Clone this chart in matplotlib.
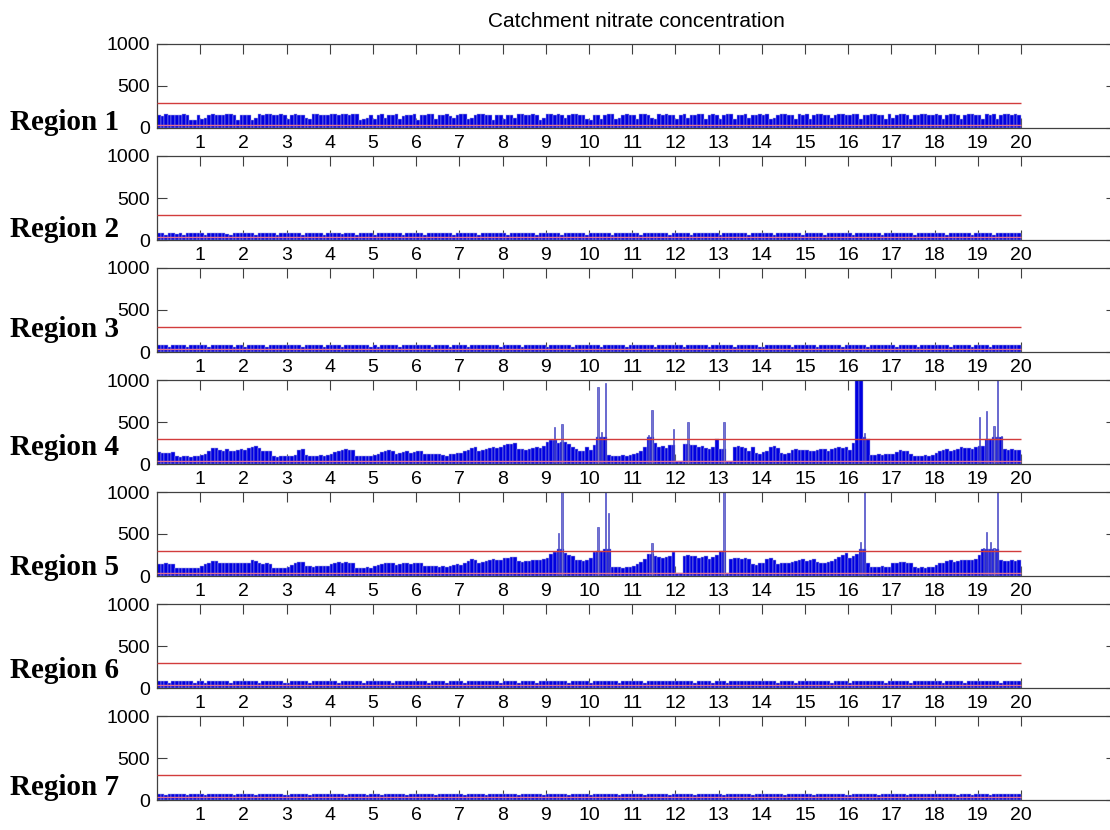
import numpy as np
import matplotlib
matplotlib.use("Agg")
import matplotlib.pyplot as plt

# monthly nitrate values, one row per year (20 years)
region1 = [
    [150,140,165,160,155,150,160,165,150,90,100,160],
    [110,120,160,165,160,155,150,165,170,160,100,150],
    [160,150,100,120,165,160,170,165,155,150,165,160],
    [110,160,165,150,160,120,110,165,170,160,155,150],
    [170,165,160,170,165,160,170,165,100,110,120,150],
    [110,160,165,120,150,160,170,110,140,160,150,165],
    [100,150,160,165,170,110,150,160,165,140,120,160],
    [170,165,110,120,160,165,170,160,150,100,160,150],
    [110,150,160,120,165,170,160,150,165,160,100,120],
    [165,170,160,165,150,120,160,170,165,160,150,110],
    [100,150,160,110,160,165,170,110,120,160,165,150],
    [160,110,165,170,160,120,110,165,160,170,160,150],
    [110,160,165,120,150,160,170,165,110,160,170,150],
    [110,160,170,165,110,150,160,165,120,150,160,165],
    [160,165,110,120,160,170,165,150,160,110,165,160],
    [165,110,160,170,165,160,150,120,160,170,165,150],
    [160,170,165,110,150,160,165,170,160,150,110,165],
    [120,160,165,170,160,110,150,160,165,170,160,150],
    [165,160,110,160,170,165,150,110,160,165,170,160],
    [150,110,165,160,170,110,150,165,170,160,165,150],
]
region2 = [
    [80,82,60,78,85,70,80,55,82,78,84,80],
    [82,60,80,84,78,82,80,70,55,82,85,80],
    [78,84,80,58,82,85,80,78,82,60,80,84],
    [85,80,78,82,62,80,84,85,80,78,55,82],
    [80,82,84,70,80,85,78,60,82,84,80,78],
    [60,80,84,82,85,78,80,82,58,80,84,85],
    [82,78,60,84,80,82,85,80,78,84,62,80],
    [84,85,80,78,82,60,80,84,85,80,78,82],
    [78,60,82,85,80,84,78,82,80,58,84,85],
    [85,82,80,78,60,84,85,82,80,78,84,62],
    [80,84,85,82,78,80,60,85,84,82,80,78],
    [82,80,58,84,85,80,82,78,84,85,60,80],
    [84,85,82,80,60,78,84,85,82,80,78,84],
    [60,82,84,85,80,82,78,84,60,85,82,80],
    [82,84,80,60,85,82,84,80,78,82,85,60],
    [85,80,82,84,78,60,85,82,84,80,82,78],
    [80,60,84,82,85,84,80,78,82,60,84,85],
    [84,82,85,80,82,78,60,84,85,82,80,84],
    [78,85,82,60,84,85,82,80,78,84,60,82],
    [82,84,80,85,62,82,84,85,80,82,84,80],
]
region3 = [
    [78,80,82,62,80,84,78,80,60,82,80,78],
    [80,84,60,82,78,80,84,82,80,58,82,84],
    [62,80,82,84,80,78,60,82,84,80,82,78],
    [82,78,84,80,60,82,80,84,78,82,62,80],
    [84,82,80,60,82,84,80,78,82,84,80,60],
    [80,60,82,84,80,82,84,60,80,78,84,82],
    [78,82,84,80,62,80,82,84,80,60,82,84],
    [84,80,60,82,84,78,80,82,84,80,78,60],
    [80,84,82,78,80,60,84,82,80,84,82,80],
    [60,82,80,84,82,80,78,60,84,82,80,84],
    [82,80,84,60,80,84,82,80,78,84,60,82],
    [84,78,82,80,84,82,60,84,82,80,84,80],
    [80,82,60,84,82,80,84,82,80,60,82,84],
    [82,84,80,82,60,84,82,80,84,82,80,62],
    [60,80,84,82,80,78,84,82,60,80,84,82],
    [84,82,80,60,84,82,80,84,82,80,60,84],
    [80,84,82,80,82,60,84,80,82,84,82,80],
    [82,60,84,82,80,84,82,60,80,82,84,82],
    [84,82,80,84,62,80,84,82,84,80,60,82],
    [80,84,82,60,84,82,80,84,82,84,80,82],
]
region4 = [
    [140,130,135,130,145,90,85,90,95,85,90,95],
    [110,125,150,190,185,170,160,175,150,160,165,180],
    [170,185,200,215,190,160,150,150,95,85,90,95],
    [100,95,105,165,180,110,100,95,100,105,100,110],
    [120,140,160,170,175,165,170,100,95,100,95,100],
    [110,125,140,160,165,160,120,130,140,150,130,140],
    [160,155,120,125,120,115,120,110,100,115,125,130],
    [130,150,170,195,200,160,170,180,190,200,185,200],
    [230,235,240,245,180,175,170,180,190,200,195,210],
    [260,290,435,250,480,260,240,200,180,160,150,200],
    [170,230,920,380,970,110,100,95,100,105,100,110],
    [120,130,160,200,350,645,250,200,210,190,230,415],
    [30,35,240,500,230,230,200,210,190,180,200,300],
    [180,500,30,35,200,210,200,190,150,200,130,120],
    [140,150,200,210,190,130,125,135,170,175,165,170],
    [170,160,150,165,180,175,160,180,190,200,195,200],
    [170,250,1000,1000,370,300,110,105,115,110,120,115],
    [120,140,170,160,150,120,100,95,100,105,100,110],
    [130,150,170,180,160,170,180,200,190,185,180,200],
    [560,220,630,300,450,1000,330,180,170,175,165,170],
]
region5 = [
    [145,140,150,140,145,95,90,95,100,90,95,100],
    [120,140,155,180,175,155,150,160,150,155,150,160],
    [150,160,190,175,150,145,150,140,95,90,95,100],
    [110,130,150,170,165,120,115,110,120,115,120,125],
    [140,160,170,160,165,160,150,100,95,100,105,100],
    [120,130,145,160,155,150,130,140,150,155,140,150],
    [160,150,125,120,115,120,110,115,105,120,130,140],
    [130,150,175,200,195,160,170,180,190,200,185,195],
    [210,220,225,230,175,170,175,180,190,185,190,200],
    [220,260,290,515,1000,270,250,240,190,185,180,190],
    [210,280,580,300,1000,750,110,105,110,100,105,110],
    [120,140,170,200,260,390,240,230,220,225,235,280],
    [30,35,240,245,240,235,210,230,240,200,230,250],
    [300,1000,40,200,210,215,205,210,200,140,130,150],
    [150,200,210,195,140,150,160,150,170,180,190,200],
    [180,190,200,170,160,150,170,180,200,230,250,270],
    [210,240,260,400,1000,150,110,105,110,115,110,105],
    [150,160,170,165,160,150,110,100,105,100,110,105],
    [130,150,160,180,190,170,180,190,195,185,190,200],
    [250,330,520,400,330,1000,190,180,175,185,180,190],
]
region6 = [
    [82,80,84,60,82,80,78,84,82,80,62,84],
    [80,62,82,84,80,84,82,80,60,84,82,80],
    [84,82,80,84,60,82,84,80,82,84,80,60],
    [60,84,82,80,84,82,60,84,80,82,84,82],
    [82,80,60,82,84,80,84,82,84,60,80,84],
    [84,82,84,80,82,60,80,84,82,80,84,82],
    [80,84,82,62,80,84,82,80,60,84,82,80],
    [82,60,80,84,82,80,84,82,84,80,82,60],
    [84,82,84,80,60,82,80,84,82,62,80,84],
    [80,84,82,84,80,84,60,82,80,84,82,80],
    [62,80,84,82,84,80,82,84,60,82,84,82],
    [84,82,80,60,82,84,80,82,84,80,82,84],
    [82,84,82,80,84,60,84,80,82,84,60,80],
    [80,82,60,84,82,80,82,84,80,82,84,82],
    [84,80,84,82,60,84,80,82,84,60,82,84],
    [82,84,80,84,82,80,84,60,82,84,80,82],
    [60,82,84,80,84,82,80,84,82,80,62,84],
    [84,80,82,84,80,60,84,82,80,84,82,80],
    [82,84,60,82,84,82,80,84,60,82,84,82],
    [80,82,84,80,82,84,62,80,84,82,80,84],
]
region7 = [
    [70,72,55,70,74,72,68,72,55,72,70,74],
    [72,55,70,74,72,70,72,68,74,55,72,70],
    [74,72,70,55,72,74,70,72,70,74,72,56],
    [55,70,74,72,70,72,55,74,72,70,74,72],
    [72,74,72,70,55,70,74,72,74,72,55,70],
    [70,72,55,74,72,74,72,70,72,56,74,72],
    [74,70,72,74,70,55,72,74,70,72,74,70],
    [72,55,74,72,74,72,70,55,74,72,70,74],
    [70,74,72,70,56,74,72,74,72,70,72,55],
    [74,72,70,74,72,70,55,72,70,74,72,74],
    [55,70,74,72,74,72,74,70,55,72,74,72],
    [72,74,72,55,70,74,72,74,72,70,56,74],
    [74,72,70,74,72,56,70,72,74,72,74,70],
    [70,55,74,72,70,74,72,70,72,55,72,74],
    [72,74,72,70,74,72,55,74,70,74,72,70],
    [74,70,55,74,72,70,74,72,74,72,70,56],
    [56,72,74,72,70,74,72,70,55,74,72,74],
    [72,74,70,74,55,72,74,72,74,70,74,72],
    [74,72,74,70,72,74,56,70,72,74,55,70],
    [70,74,72,55,74,72,70,74,72,70,74,72],
]
regions = [region1, region2, region3, region4, region5, region6, region7]
names = ["Region 1", "Region 2", "Region 3", "Region 4",
         "Region 5", "Region 6", "Region 7"]
limit = 300     # upper red reference line
low_line = 40   # lower red reference line

W, H = 1110, 830
fig = plt.figure(figsize=(W/100., H/100.), dpi=100)
plt.rcParams["font.family"] = ["Liberation Sans", "DejaVu Sans"]

left, right = 157, 1116
top0, step, height = 44, 112, 84
label_base = [130, 237, 337, 455, 575, 678, 795]  # baseline (px from top) of region labels

xpos = np.arange(240)/12. + 1/24.

axes = []
for i, (name, vals) in enumerate(zip(names, regions)):
    top = top0 + i*step
    ax = fig.add_axes([left/W, 1 - (top + height)/H, (right-left)/W, height/H])
    h = np.concatenate([np.asarray(v, float) for v in vals])

    # isolated peaks show up as thin lines, a run of saturated months as a solid block
    prev = np.r_[0, h[:-1]]
    nxt = np.r_[h[1:], 0]
    block = (h >= 1000) & ((prev >= 1000) | (nxt >= 1000))
    thin = (h > 320) & ~block
    base = np.where(thin, np.minimum(h, np.maximum(prev, nxt).clip(max=320)), h)

    ax.bar(xpos, base, width=1/12., color="#0000e0", edgecolor="#a8a8e0",
           linewidth=0.35, zorder=2)
    ax.bar(xpos[thin], h[thin], width=1/40., color="#7474cc",
           edgecolor="#3030c0", linewidth=0.4, zorder=2)
    ax.hlines(limit, 0, 20, color="#d23c3c", lw=1.0, zorder=3)
    ax.hlines(low_line, 0, 20, color="#e07090", lw=1.0, zorder=3)
    ax.set_xlim(0, 22.2)
    ax.set_ylim(0, 1000)
    ax.set_xticks(range(1, 21))
    ax.set_yticks([0, 500, 1000])
    ax.tick_params(direction="in", top=True, right=True, length=7, width=0.8,
                   color="#404040", labelsize=14, pad=5)
    for sp in ax.spines.values():
        sp.set_color("#404040")
        sp.set_linewidth(0.9)
    fig.text(10/W, 1 - label_base[i]/H, name, family="Liberation Serif",
             fontsize=21, fontweight="bold", va="baseline", ha="left")
    axes.append(ax)

axes[0].set_title("Catchment nitrate concentration", fontsize=15, pad=12)

fig.savefig("out.png", dpi=100)
